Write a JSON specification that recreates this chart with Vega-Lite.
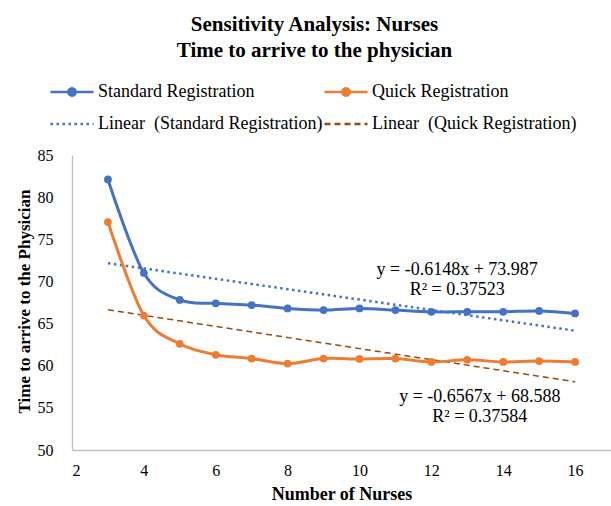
{
  "$schema": "https://vega.github.io/schema/vega-lite/v6.json",
  "width": 539,
  "height": 295,
  "autosize": {"type": "none"},
  "padding": {"left": 72, "top": 155, "right": 0, "bottom": 56},
  "background": "white",
  "config": {
    "font": "Liberation Serif",
    "view": {"stroke": null},
    "axis": {
      "domainColor": "#BFBFBF",
      "domainWidth": 1.3,
      "ticks": false,
      "grid": false,
      "labelFont": "Liberation Serif",
      "labelFontSize": 16,
      "labelColor": "#000000",
      "titleFont": "Liberation Serif",
      "titleFontSize": 18,
      "titleFontWeight": "bold",
      "titleColor": "#000000"
    },
    "legend": {"symbolStrokeWidth": 2.5, "symbolType": "stroke"}
  },
  "title": {
    "text": ["Sensitivity Analysis: Nurses", "Time to arrive to the physician"],
    "font": "Liberation Serif",
    "fontSize": 21,
    "fontWeight": "bold",
    "color": "#000000",
    "anchor": "middle",
    "dx": -27,
    "offset": 8,
    "lineHeight": 26
  },
  "datasets": {
    "main": [
      {"x": 3, "y": 82.1, "series": "Standard Registration", "trend": "Linear\u00a0 (Standard Registration)"},
      {"x": 4, "y": 71.0, "series": "Standard Registration", "trend": "Linear\u00a0 (Standard Registration)"},
      {"x": 5, "y": 67.8, "series": "Standard Registration", "trend": "Linear\u00a0 (Standard Registration)"},
      {"x": 6, "y": 67.4, "series": "Standard Registration", "trend": "Linear\u00a0 (Standard Registration)"},
      {"x": 7, "y": 67.2, "series": "Standard Registration", "trend": "Linear\u00a0 (Standard Registration)"},
      {"x": 8, "y": 66.8, "series": "Standard Registration", "trend": "Linear\u00a0 (Standard Registration)"},
      {"x": 9, "y": 66.6, "series": "Standard Registration", "trend": "Linear\u00a0 (Standard Registration)"},
      {"x": 10, "y": 66.8, "series": "Standard Registration", "trend": "Linear\u00a0 (Standard Registration)"},
      {"x": 11, "y": 66.6, "series": "Standard Registration", "trend": "Linear\u00a0 (Standard Registration)"},
      {"x": 12, "y": 66.4, "series": "Standard Registration", "trend": "Linear\u00a0 (Standard Registration)"},
      {"x": 13, "y": 66.4, "series": "Standard Registration", "trend": "Linear\u00a0 (Standard Registration)"},
      {"x": 14, "y": 66.4, "series": "Standard Registration", "trend": "Linear\u00a0 (Standard Registration)"},
      {"x": 15, "y": 66.5, "series": "Standard Registration", "trend": "Linear\u00a0 (Standard Registration)"},
      {"x": 16, "y": 66.2, "series": "Standard Registration", "trend": "Linear\u00a0 (Standard Registration)"},
      {"x": 3, "y": 77.05, "series": "Quick Registration", "trend": "Linear\u00a0 (Quick Registration)"},
      {"x": 4, "y": 65.95, "series": "Quick Registration", "trend": "Linear\u00a0 (Quick Registration)"},
      {"x": 5, "y": 62.6, "series": "Quick Registration", "trend": "Linear\u00a0 (Quick Registration)"},
      {"x": 6, "y": 61.3, "series": "Quick Registration", "trend": "Linear\u00a0 (Quick Registration)"},
      {"x": 7, "y": 60.85, "series": "Quick Registration", "trend": "Linear\u00a0 (Quick Registration)"},
      {"x": 8, "y": 60.25, "series": "Quick Registration", "trend": "Linear\u00a0 (Quick Registration)"},
      {"x": 9, "y": 60.85, "series": "Quick Registration", "trend": "Linear\u00a0 (Quick Registration)"},
      {"x": 10, "y": 60.8, "series": "Quick Registration", "trend": "Linear\u00a0 (Quick Registration)"},
      {"x": 11, "y": 60.85, "series": "Quick Registration", "trend": "Linear\u00a0 (Quick Registration)"},
      {"x": 12, "y": 60.45, "series": "Quick Registration", "trend": "Linear\u00a0 (Quick Registration)"},
      {"x": 13, "y": 60.7, "series": "Quick Registration", "trend": "Linear\u00a0 (Quick Registration)"},
      {"x": 14, "y": 60.45, "series": "Quick Registration", "trend": "Linear\u00a0 (Quick Registration)"},
      {"x": 15, "y": 60.55, "series": "Quick Registration", "trend": "Linear\u00a0 (Quick Registration)"},
      {"x": 16, "y": 60.45, "series": "Quick Registration", "trend": "Linear\u00a0 (Quick Registration)"}
    ],
    "notes": [
      {"label": "y = -0.6148x + 73.987\nR² = 0.37523", "lx": 12.72, "ly": 71.3},
      {"label": "y = -0.6567x + 68.588\nR² = 0.37584", "lx": 13.35, "ly": 56.3}
    ]
  },
  "layer": [
    {
      "data": {"name": "main"},
      "transform": [
        {"filter": "datum.series === 'Standard Registration'"},
        {"regression": "y", "on": "x", "groupby": ["trend"]}
      ],
      "mark": {"type": "line", "strokeWidth": 2.5},
      "encoding": {
        "x": {"field": "x", "type": "quantitative", "scale": {"domain": [2, 17], "nice": false, "zero": false},
              "axis": {"values": [2, 4, 6, 8, 10, 12, 14, 16], "title": "Number of Nurses", "labelPadding": 12, "titleBaseline": "middle", "titleY": 44}},
        "y": {"field": "y", "type": "quantitative", "scale": {"domain": [50, 85], "nice": false, "zero": false},
              "axis": {"values": [50, 55, 60, 65, 70, 75, 80, 85], "title": "Time to arrive to the Physician", "titleFontSize": 17, "labelPadding": 19, "titleX": -48, "titleY": 146, "titleAngle": -90, "titleAlign": "center", "titleBaseline": "middle"}},
        "color": {
          "field": "trend", "type": "nominal",
          "scale": {
            "domain": ["Standard Registration", "Quick Registration", "Linear\u00a0 (Standard Registration)", "Linear\u00a0 (Quick Registration)"],
            "range": ["#4472C4", "#ED7D31", "#4472C4", "#9E480E"]
          },
          "legend": {
            "title": null,
            "orient": "none",
            "direction": "horizontal",
            "legendX": -23,
            "legendY": -86,
            "columns": 2,
            "columnPadding": -6,
            "rowPadding": 0,
            "padding": 0,
            "symbolSize": 1849,
            "symbolType": "stroke",
            "symbolStrokeWidth": 2.5,
            "labelOffset": 3,
            "labelFont": "Liberation Serif",
            "labelFontSize": 18,
            "labelColor": "#000000",
            "labelLimit": 400,
            "encode": {
              "symbols": {
                "update": {
                  "shape": {"signal": "indexof(datum.label, 'Linear') === 0 ? 'stroke' : 'M-1,0L1,0M0.17,0A0.17,0.17,0,1,1,-0.17,0A0.17,0.17,0,1,1,0.17,0'"},
                  "fill": {"signal": "datum.label === 'Standard Registration' ? '#4472C4' : (datum.label === 'Quick Registration' ? '#ED7D31' : 'transparent')"}
                }
              }
            }
          }
        },
        "strokeDash": {
          "field": "trend", "type": "nominal",
          "scale": {
            "domain": ["Standard Registration", "Quick Registration", "Linear\u00a0 (Standard Registration)", "Linear\u00a0 (Quick Registration)"],
            "range": [[1, 0], [1, 0], [2.5, 3.5], [6, 4]]
          }
        }
      }
    },
    {
      "data": {"name": "main"},
      "transform": [
        {"filter": "datum.series === 'Quick Registration'"},
        {"regression": "y", "on": "x", "groupby": ["trend"]}
      ],
      "mark": {"type": "line", "strokeWidth": 1.5},
      "encoding": {
        "x": {"field": "x", "type": "quantitative"},
        "y": {"field": "y", "type": "quantitative"},
        "color": {"field": "trend", "type": "nominal"},
        "strokeDash": {"field": "trend", "type": "nominal"}
      }
    },
    {
      "data": {"name": "main"},
      "mark": {"type": "line", "strokeWidth": 3, "interpolate": "cardinal"},
      "encoding": {
        "x": {"field": "x", "type": "quantitative"},
        "y": {"field": "y", "type": "quantitative"},
        "color": {"field": "series", "type": "nominal"},
        "detail": {"field": "series"}
      }
    },
    {
      "data": {"name": "main"},
      "mark": {"type": "point", "filled": true, "opacity": 1, "size": 60},
      "encoding": {
        "x": {"field": "x", "type": "quantitative"},
        "y": {"field": "y", "type": "quantitative"},
        "color": {"field": "series", "type": "nominal"}
      }
    },
    {
      "data": {"name": "notes"},
      "mark": {"type": "text", "align": "center", "baseline": "middle", "lineBreak": "\n", "lineHeight": 20, "font": "Liberation Serif", "fontSize": 18, "color": "#000000"},
      "encoding": {
        "x": {"field": "lx", "type": "quantitative"},
        "y": {"field": "ly", "type": "quantitative"},
        "text": {"field": "label"}
      }
    }
  ]
}
